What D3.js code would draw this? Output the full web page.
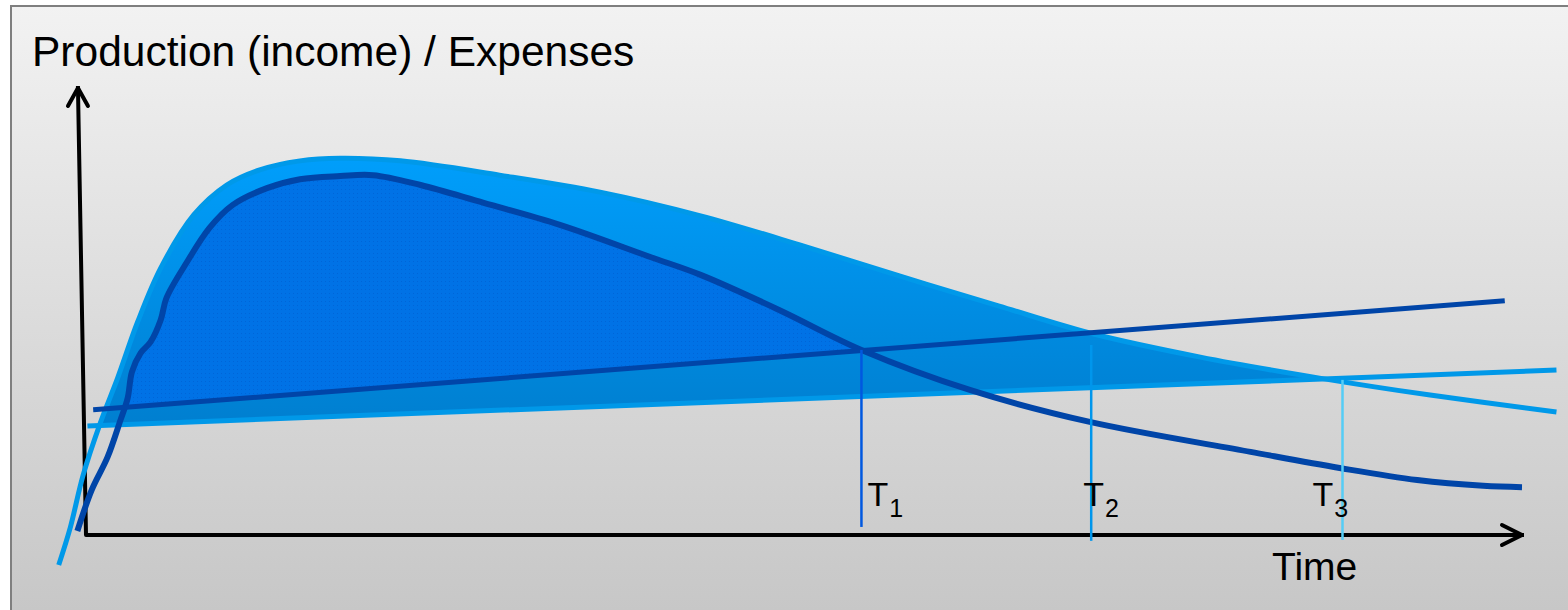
<!DOCTYPE html>
<html>
<head>
<meta charset="utf-8">
<script src="https://cdn.jsdelivr.net/npm/d3@7"></script>
<style>
  html, body { margin: 0; padding: 0; background: #ffffff; }
  svg { display: block; }
</style>
</head>
<body>
<svg id="chart" width="1568" height="610"></svg>
<script>
// Production curves: [time, value]
const lightProduction = [
  [-1.9, -6.7], [-1.1, 1.6], [-0.2, 13.4], [1.0, 25.1], [2.2, 35.1], [3.6, 47.7],
  [5.2, 59.7], [7.5, 71.6], [9.8, 78.3], [12.1, 81.7], [14.9, 83.7], [17.7, 84.3],
  [21.9, 83.7], [28.8, 80.5], [35.8, 76.7], [42.8, 71.4], [49.7, 64.9], [56.7, 57.9],
  [63.6, 51.2], [69.9, 45.2], [77.6, 39.8], [85.9, 35.1], [93.6, 31.3], [102.4, 27.5]
];
const darkProduction = [
  [-0.6, 0.9], [0.4, 10.1], [1.5, 17.4], [2.4, 25.7], [2.9, 30.6], [3.2, 36.5],
  [3.8, 40.7], [4.5, 43.2], [5.2, 48.1], [5.6, 53.0], [7.0, 60.9], [8.6, 68.7],
  [10.2, 73.8], [12.6, 77.6], [14.9, 79.6], [17.7, 80.3], [20.0, 80.5], [23.3, 78.3],
  [27.7, 74.3], [33.0, 69.4], [39.3, 62.2], [42.8, 58.2], [48.3, 50.3], [54.0, 41.4],
  [61.6, 32.4], [69.9, 25.3], [81.1, 18.6], [87.3, 15.0], [92.7, 12.3], [97.3, 11.0],
  [100.0, 10.7]
];
// Expense lines: [time, value]
const darkExpenses = [[0.5, 28.0], [98.8, 52.4]];
const lightExpenses = [[0.1, 24.4], [102.4, 36.9]];
// Break-even markers
const markerLabels = ["1", "2", "3"];
const markerTimes = [54.0, 70.0, 87.5];
const markerTops = [41.4, 42.5, 34.7];
const markerBottoms = [1.8, -1.3, -1.1];
const markerColors = ["#0058e0", "#0096ec", "#55cdf6"];
const markerLabelShift = [6, -8, -30];

const svg = d3.select("#chart");
const x = d3.scaleLinear().domain([0, 100]).range([86, 1522]);
const y = d3.scaleLinear().domain([0, 100]).range([535, 88]);

const defs = svg.append("defs");
const bg = defs.append("linearGradient").attr("id", "bg")
  .attr("gradientUnits", "userSpaceOnUse").attr("x1", 0).attr("y1", 6).attr("x2", 0).attr("y2", 610);
bg.append("stop").attr("offset", 0).attr("stop-color", "#f2f2f2");
bg.append("stop").attr("offset", 1).attr("stop-color", "#c7c7c7");

const lg = defs.append("linearGradient").attr("id", "lightFill")
  .attr("gradientUnits", "userSpaceOnUse").attr("x1", 0).attr("y1", y(84)).attr("x2", 0).attr("y2", y(25));
lg.append("stop").attr("offset", 0).attr("stop-color", "#009efb");
lg.append("stop").attr("offset", 1).attr("stop-color", "#007fd0");

const pat = defs.append("pattern").attr("id", "dots")
  .attr("patternUnits", "userSpaceOnUse").attr("width", 4).attr("height", 4);
pat.append("rect").attr("width", 4).attr("height", 4).attr("fill", "#0072e6");
pat.append("rect").attr("x", 1).attr("y", 1).attr("width", 1).attr("height", 1).attr("fill", "#0065d8");

// clip regions: everything above each expense line
const aboveArea = d3.area().x(d => x(d[0])).y0(y(130)).y1(d => y(d[1]));
function extend(line) {
  const [a, b] = line;
  const slope = (b[1] - a[1]) / (b[0] - a[0]);
  return [[-10, a[1] + slope * (-10 - a[0])], [110, a[1] + slope * (110 - a[0])]];
}
defs.append("clipPath").attr("id", "aboveLight")
  .append("path").attr("d", aboveArea(extend(lightExpenses)));
defs.append("clipPath").attr("id", "aboveDark")
  .append("path").attr("d", aboveArea(extend(darkExpenses)));

// background frame
svg.append("rect").attr("x", 11).attr("y", 6).attr("width", 1620).attr("height", 700)
  .attr("fill", "url(#bg)").attr("stroke", "#7f7f7f").attr("stroke-width", 2);

// axes
const axisG = svg.append("g").attr("fill", "none").attr("stroke", "#000")
  .attr("stroke-width", 4).attr("stroke-linecap", "round").attr("stroke-linejoin", "round");
axisG.append("path").attr("d", `M${x(-0.56)},${y(100)} L${x(0)},${y(0)} L${x(100)},${y(0)}`)
  .attr("stroke-linecap", "square");
axisG.append("path").attr("d", `M${x(-0.56) - 10},${y(100) + 18} L${x(-0.56)},${y(100)} L${x(-0.56) + 10},${y(100) + 18}`);
axisG.append("path").attr("d", `M${x(100) - 20},${y(0) - 10} L${x(100)},${y(0)} L${x(100) - 20},${y(0) + 10}`);

// filled margins
const underArea = d3.area().curve(d3.curveCatmullRom.alpha(0.5))
  .x(d => x(d[0])).y0(y(-15)).y1(d => y(d[1]));
svg.append("path").attr("d", underArea(lightProduction))
  .attr("fill", "url(#lightFill)").attr("clip-path", "url(#aboveLight)");
svg.append("path").attr("d", underArea(darkProduction))
  .attr("fill", "url(#dots)").attr("clip-path", "url(#aboveDark)");

// lines
const curve = d3.line().curve(d3.curveCatmullRom.alpha(0.5)).x(d => x(d[0])).y(d => y(d[1]));
const straight = d3.line().x(d => x(d[0])).y(d => y(d[1]));
svg.append("path").attr("d", straight(lightExpenses))
  .attr("fill", "none").attr("stroke", "#0098e8").attr("stroke-width", 5);
svg.append("path").attr("d", curve(lightProduction))
  .attr("fill", "none").attr("stroke", "#0099e9").attr("stroke-width", 5);
svg.append("path").attr("d", curve(darkProduction))
  .attr("fill", "none").attr("stroke", "#0045a8").attr("stroke-width", 6);
svg.append("path").attr("d", straight(darkExpenses))
  .attr("fill", "none").attr("stroke", "#0045a8").attr("stroke-width", 5);

// break-even markers
markerTimes.forEach((t, i) => {
  svg.append("line")
    .attr("x1", x(t)).attr("x2", x(t))
    .attr("y1", y(markerTops[i])).attr("y2", y(markerBottoms[i]))
    .attr("stroke", markerColors[i]).attr("stroke-width", 2.5);
  const lbl = svg.append("text")
    .attr("x", x(t) + markerLabelShift[i]).attr("y", 506)
    .attr("font-family", "'Liberation Sans', Arial, sans-serif")
    .attr("font-size", 34).attr("fill", "#000");
  lbl.append("tspan").text("T");
  lbl.append("tspan").attr("font-size", 25).attr("dy", 11).attr("dx", 1).text(markerLabels[i]);
});

// titles
svg.append("text").attr("x", 32).attr("y", 66)
  .attr("font-family", "'Liberation Sans', Arial, sans-serif").attr("font-size", 42.5)
  .attr("fill", "#000").text("Production (income) / Expenses");
svg.append("text").attr("x", 1272).attr("y", 580)
  .attr("font-family", "'Liberation Sans', Arial, sans-serif").attr("font-size", 39)
  .attr("fill", "#000").text("Time");
</script>
</body>
</html>
